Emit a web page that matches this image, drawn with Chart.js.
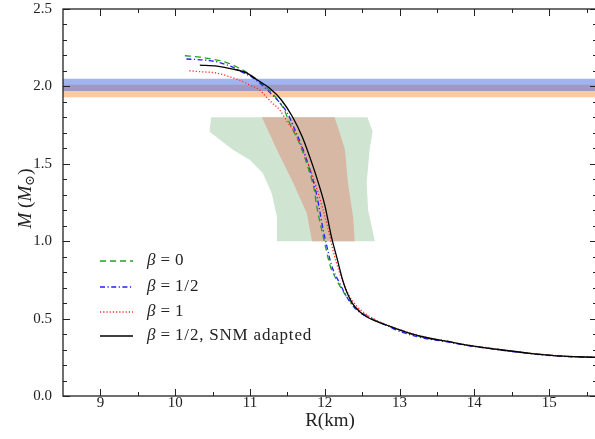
<!DOCTYPE html>
<html>
<head>
<meta charset="utf-8">
<script src="https://cdn.jsdelivr.net/npm/chart.js@4.4.0/dist/chart.umd.min.js"></script>
<style>
  html, body { margin: 0; padding: 0; background: #fff; overflow: hidden; }
  #wrap { width: 595px; height: 439px; overflow: hidden; }
</style>
</head>
<body>
<div id="wrap"><canvas id="grafica" width="600" height="439"></canvas></div>
<script>
// curvas masa-radio
var rBeta0 = [10.13, 10.33, 10.50, 10.66, 10.82, 10.97, 11.10, 11.23, 11.35, 11.46, 11.53, 11.66, 11.73, 11.80, 11.86, 11.89, 11.96, 12.00, 12.07, 12.16, 12.24, 12.30, 12.36, 12.43, 12.51, 12.73, 13.00, 13.31, 13.63, 13.84, 14.30, 14.74, 15.19, 15.62];
var mBeta0 = [2.198, 2.189, 2.176, 2.159, 2.127, 2.086, 2.041, 1.989, 1.925, 1.847, 1.763, 1.634, 1.543, 1.440, 1.330, 1.233, 1.071, 0.987, 0.845, 0.748, 0.680, 0.636, 0.599, 0.565, 0.535, 0.477, 0.425, 0.380, 0.354, 0.334, 0.302, 0.276, 0.257, 0.250];

var rBetaMedio = [10.15, 10.37, 10.56, 10.76, 10.89, 11.04, 11.26, 11.50, 11.60, 11.68, 11.75, 11.82, 11.88, 11.92, 11.98, 12.02, 12.09, 12.20, 12.26, 12.32, 12.39, 12.47, 12.64, 12.80, 13.00, 13.31, 13.63, 13.84, 14.30, 14.74, 15.19, 15.62];
var mBetaMedio = [2.177, 2.171, 2.158, 2.126, 2.093, 2.055, 1.963, 1.828, 1.720, 1.630, 1.540, 1.435, 1.325, 1.230, 1.070, 0.985, 0.845, 0.728, 0.670, 0.620, 0.575, 0.540, 0.496, 0.462, 0.418, 0.375, 0.350, 0.331, 0.300, 0.274, 0.256, 0.249];

var rBeta1 = [10.19, 10.37, 10.56, 10.73, 10.86, 11.00, 11.13, 11.22, 11.30, 11.40, 11.50, 11.60, 11.77, 11.90, 12.04, 12.11, 12.20, 12.27, 12.33, 12.42, 12.54, 12.68, 12.83, 13.14, 13.40, 13.63, 13.84, 14.30, 14.74, 15.19, 15.62];
var mBeta1 = [2.101, 2.094, 2.086, 2.062, 2.041, 2.008, 1.976, 1.931, 1.892, 1.847, 1.770, 1.700, 1.511, 1.330, 1.090, 0.942, 0.793, 0.705, 0.645, 0.585, 0.532, 0.492, 0.460, 0.407, 0.375, 0.355, 0.335, 0.303, 0.277, 0.258, 0.251];

var rSnm = [10.33, 10.56, 10.77, 10.96, 11.10, 11.26, 11.42, 11.57, 11.70, 11.80, 11.89, 12.00, 12.09, 12.16, 12.24, 12.30, 12.37, 12.46, 12.57, 12.70, 12.83, 13.14, 13.40, 13.63, 13.84, 14.30, 14.74, 15.19, 15.62];
var mSnm = [2.138, 2.131, 2.112, 2.086, 2.041, 1.989, 1.912, 1.802, 1.673, 1.543, 1.414, 1.233, 1.026, 0.897, 0.748, 0.665, 0.599, 0.548, 0.509, 0.480, 0.457, 0.405, 0.373, 0.354, 0.334, 0.302, 0.276, 0.257, 0.250];

// regiones de restriccion (poligonos)
var rVerde = [10.48, 12.57, 12.64, 12.60, 12.56, 12.58, 12.67, 11.36, 11.36, 11.29, 11.17, 11.00, 10.77, 10.46, 10.48];
var mVerde = [1.80, 1.80, 1.71, 1.59, 1.375, 1.20, 1.00, 1.00, 1.16, 1.31, 1.44, 1.524, 1.59, 1.707, 1.80];
var rMarron = [11.16, 12.13, 12.20, 12.27, 12.31, 12.38, 12.40, 11.83, 11.76, 11.58, 11.36, 11.16];
var mMarron = [1.80, 1.80, 1.70, 1.59, 1.375, 1.155, 1.00, 1.00, 1.18, 1.375, 1.59, 1.80];

// bandas de pulsares (min, max)
var bandaAzul = [1.97, 2.05];
var bandaNaranja = [1.93, 2.01];

var xMin = 8.5, xMax = 15.64, yMin = 0, yMax = 2.5;
var xMayores = [9, 10, 11, 12, 13, 14, 15];
var xMenores = [9.5, 10.5, 11.5, 12.5, 13.5, 14.5, 15.5];
var yMayores = [0, 0.5, 1.0, 1.5, 2.0, 2.5];
var yMenores = [0.1, 0.2, 0.3, 0.4, 0.6, 0.7, 0.8, 0.9, 1.1, 1.2, 1.3, 1.4, 1.6, 1.7, 1.8, 1.9, 2.1, 2.2, 2.3, 2.4];

var etiquetas = ['β = 0', 'β = 1/2', 'β = 1', 'β = 1/2, SNM adapted'];

var FUENTE = '"Liberation Serif", "DejaVu Serif", serif';

function puntos(xs, ys) {
  var out = [];
  for (var i = 0; i < xs.length; i++) out.push({x: xs[i], y: ys[i]});
  return out;
}

function curva(label, xs, ys, color, dash, orden) {
  return {
    label: label, data: puntos(xs, ys), showLine: true, pointRadius: 0,
    borderColor: color, borderWidth: 1.3, borderDash: dash, fill: false,
    cubicInterpolationMode: 'monotone', order: orden, esCurva: true
  };
}

function region(xs, ys, color, orden) {
  return {
    data: puntos(xs, ys), showLine: true, pointRadius: 0, borderWidth: 0,
    borderColor: color, backgroundColor: color, fill: 'shape', tension: 0, order: orden
  };
}

function banda(lim, color, orden) {
  return region([xMin - 1, xMax + 1, xMax + 1, xMin - 1, xMin - 1],
                [lim[0], lim[0], lim[1], lim[1], lim[0]], color, orden);
}

function sinRelleno(s) {
  s.paddingTop = 0; s.paddingBottom = 0; s.paddingLeft = 0; s.paddingRight = 0;
}

var marcas = {
  id: 'marcas',
  afterDraw: function(chart) {
    var ctx = chart.ctx, a = chart.chartArea;
    var sx = chart.scales.x, sy = chart.scales.y;
    ctx.save();
    ctx.strokeStyle = '#222';
    ctx.lineWidth = 1;
    function linea(x1, y1, x2, y2) { ctx.beginPath(); ctx.moveTo(x1, y1); ctx.lineTo(x2, y2); ctx.stroke(); }
    function xTick(v, len) {
      var p = Math.round(sx.getPixelForValue(v)) + 0.5;
      linea(p, a.bottom, p, a.bottom - len);
      linea(p, a.top, p, a.top + len);
    }
    function yTick(v, len) {
      var p = Math.round(sy.getPixelForValue(v)) + 0.5;
      linea(a.left, p, a.left + len, p);
      linea(a.right, p, a.right - len, p);
    }
    xMayores.forEach(function(v) { xTick(v, 7); });
    xMenores.forEach(function(v) { xTick(v, 4); });
    yMayores.forEach(function(v) { yTick(v, 7); });
    yMenores.forEach(function(v) { yTick(v, 4); });
    ctx.lineWidth = 1.3;
    ctx.strokeRect(a.left, a.top, a.right - a.left, a.bottom - a.top);

    // leyenda
    var curvas = chart.data.datasets.filter(function(d) { return d.esCurva; });
    ctx.textBaseline = 'middle';
    ctx.fillStyle = '#222';
    var ys = [261, 287, 312, 336];
    curvas.forEach(function(d, i) {
      var y = ys[i];
      ctx.save();
      ctx.strokeStyle = d.borderColor;
      ctx.lineWidth = 1.4;
      ctx.setLineDash(d.borderDash);
      linea(100, y, 133, y);
      ctx.restore();
      var t = etiquetas[i], x = 147;
      var resto = t.substring(4);
      ctx.font = 'italic 17px ' + FUENTE;
      ctx.fillText('β', x, y);
      x += ctx.measureText('β').width + 5;
      ctx.font = '17px ' + FUENTE;
      ctx.fillText('=', x, y);
      x += ctx.measureText('=').width + 5;
      ctx.save();
      ctx.letterSpacing = '0.8px';
      ctx.fillText(resto, x, y);
      ctx.restore();
    });

    // titulo eje y: M (M⊙)
    ctx.save();
    ctx.translate(26, (a.top + a.bottom) / 2 - 4);
    ctx.rotate(-Math.PI / 2);
    var partes = [
      {t: 'M', f: 'italic 19px '},
      {t: ' (', f: '19px '},
      {t: 'M', f: 'italic 19px '},
      {t: '⊙', f: '13px ', sub: true},
      {t: ')', f: '19px '}
    ];
    var ancho = 0;
    partes.forEach(function(p) { ctx.font = p.f + FUENTE; p.w = ctx.measureText(p.t).width; ancho += p.w; });
    var px = -ancho / 2;
    partes.forEach(function(p) {
      ctx.font = p.f + FUENTE;
      ctx.fillText(p.t, px, p.sub ? 5 : 0);
      px += p.w;
    });
    ctx.restore();
    ctx.restore();
  }
};

new Chart(document.getElementById('grafica').getContext('2d'), {
  type: 'scatter',
  data: {
    datasets: [
      curva(etiquetas[0], rBeta0, mBeta0, '#22a022', [6, 4], 3),
      curva(etiquetas[1], rBetaMedio, mBetaMedio, '#2020ff', [5, 2.5, 1.2, 2.5], 2),
      curva(etiquetas[2], rBeta1, mBeta1, '#ff2a2a', [1.2, 2], 1),
      curva(etiquetas[3], rSnm, mSnm, '#000000', [], 0),
      region(rMarron, mMarron, '#d6b8a5', 5),
      region(rVerde, mVerde, '#cfe5d1', 6),
      banda(bandaAzul, 'rgba(65,105,225,0.5)', 7),
      banda(bandaNaranja, 'rgb(255,200,160)', 8)
    ]
  },
  options: {
    responsive: false,
    animation: false,
    layout: { padding: { left: 0, top: 9, right: 3, bottom: 0 } },
    plugins: { legend: { display: false }, tooltip: { enabled: false } },
    scales: {
      x: {
        type: 'linear', min: xMin, max: xMax,
        grid: { display: false, drawTicks: false },
        border: { display: false },
        afterBuildTicks: function(s) { s.ticks = xMayores.map(function(v) { return {value: v}; }); },
        afterFit: function(s) { s.height = 43; sinRelleno(s); },
        ticks: { color: '#222', padding: -2, maxRotation: 0, font: { family: FUENTE, size: 15 } },
        title: { display: true, text: 'R(km)', color: '#222', padding: { top: 0, bottom: 7 }, font: { family: FUENTE, size: 19 } }
      },
      y: {
        type: 'linear', min: yMin, max: yMax,
        grid: { display: false, drawTicks: false },
        border: { display: false },
        afterBuildTicks: function(s) { s.ticks = yMayores.map(function(v) { return {value: v}; }); },
        afterFit: function(s) { s.width = 63; sinRelleno(s); },
        ticks: { color: '#222', padding: 11, font: { family: FUENTE, size: 15 },
          callback: function(v) { return v.toFixed(1); } }
      }
    }
  },
  plugins: [marcas]
});
</script>
</body>
</html>
